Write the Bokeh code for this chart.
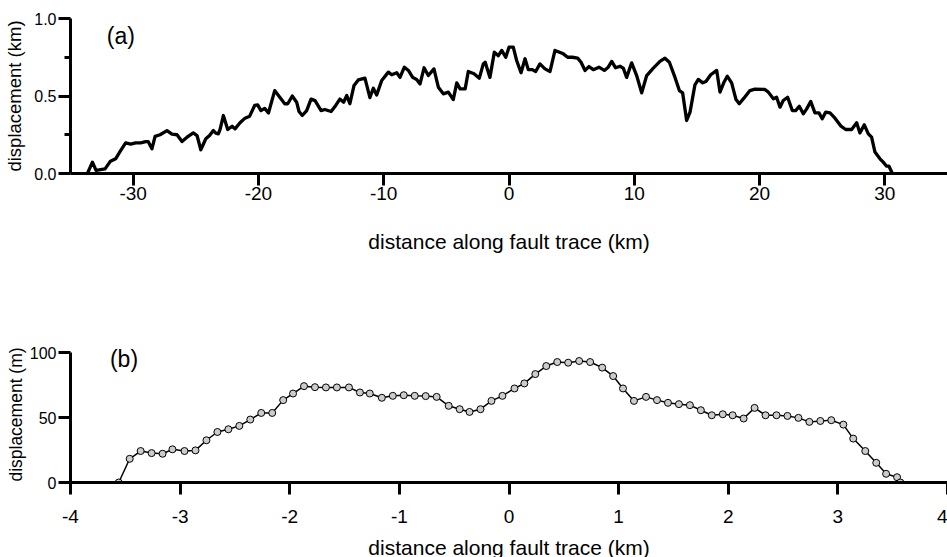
from bokeh.plotting import figure
from bokeh.layouts import column
from bokeh.models import Range1d, FixedTicker, CustomJSTickFormatter, Label
from bokeh.embed import file_html
from bokeh.resources import INLINE

# ---------------- data: panel (a) ----------------
dist_a = [-33.65, -33.25, -32.96, -32.24, -31.84, -31.4, -31.0, -30.6, -30.2, -29.8,
          -29.4, -29.0, -28.8, -28.5, -28.25, -27.85, -27.3, -26.9, -26.5, -26.1,
          -25.7, -25.2, -24.9, -24.6, -24.2, -23.9, -23.6, -23.4, -23.2, -23.06,
          -22.8, -22.45, -22.1, -21.87, -21.47, -21.07, -20.7, -20.3, -20.06, -19.8,
          -19.5, -19.2, -18.7, -18.28, -17.9, -17.66, -17.3, -16.95, -16.76, -16.5,
          -16.15, -15.8, -15.48, -15.0, -14.7, -14.2, -13.83, -13.5, -13.2, -12.95,
          -12.7, -12.37, -12.03, -11.5, -11.1, -10.83, -10.56, -10.16, -9.63, -9.36,
          -8.96, -8.7, -8.35, -8.03, -7.69, -7.37, -7.1, -6.78, -6.44, -5.99,
          -5.64, -5.24, -4.84, -4.45, -4.17, -3.9, -3.5, -3.25, -2.79, -2.37,
          -2.05, -1.9, -1.52, -1.17, -0.85, -0.58, -0.26, 0.0, 0.34, 0.61,
          0.96, 1.28, 1.54, 1.86, 2.13, 2.47, 2.87, 3.27, 3.67, 4.34,
          4.68, 5.05, 5.48, 5.75, 6.07, 6.38, 6.73, 7.18, 7.61, 7.92,
          8.2, 8.51, 8.86, 9.12, 9.39, 9.79, 10.19, 10.59, 10.99, 11.52,
          12.05, 12.45, 12.8, 13.25, 13.6, 13.86, 14.18, 14.45, 14.84, 15.11,
          15.46, 15.72, 16.1, 16.58, 16.84, 17.16, 17.42, 17.77, 18.12, 18.38,
          18.75, 19.23, 19.63, 20.43, 20.7, 21.1, 21.36, 21.63, 21.89, 22.24,
          22.61, 22.88, 23.17, 23.49, 23.76, 24.08, 24.42, 24.74, 25.0, 25.28,
          25.62, 26.02, 26.5, 26.87, 27.35, 27.75, 28.01, 28.36, 28.68, 28.94,
          29.21, 29.61, 29.87, 30.14, 30.33, 30.6]
disp_a = [0.0, 0.073, 0.02, 0.03, 0.077, 0.095, 0.148, 0.198, 0.19, 0.198,
          0.198, 0.206, 0.206, 0.159, 0.24, 0.25, 0.277, 0.254, 0.25, 0.206,
          0.234, 0.262, 0.245, 0.153, 0.224, 0.245, 0.277, 0.26, 0.256, 0.284,
          0.374, 0.284, 0.305, 0.288, 0.327, 0.357, 0.37, 0.439, 0.443, 0.406,
          0.42, 0.39, 0.535, 0.49, 0.45, 0.45, 0.5, 0.46, 0.4, 0.374,
          0.406, 0.48, 0.47, 0.406, 0.413, 0.4, 0.439, 0.48, 0.46, 0.503,
          0.45, 0.568, 0.604, 0.615, 0.49, 0.55, 0.507, 0.6, 0.654, 0.637,
          0.65, 0.62, 0.686, 0.665, 0.62, 0.606, 0.578, 0.682, 0.632, 0.675,
          0.557, 0.514, 0.525, 0.477, 0.585, 0.546, 0.546, 0.658, 0.643, 0.615,
          0.707, 0.718, 0.62, 0.783, 0.76, 0.794, 0.75, 0.815, 0.815, 0.729,
          0.65, 0.74, 0.67, 0.67, 0.658, 0.707, 0.675, 0.658, 0.794, 0.772,
          0.75, 0.75, 0.744, 0.718, 0.665, 0.69, 0.67, 0.686, 0.665, 0.686,
          0.723, 0.682, 0.692, 0.68, 0.62, 0.714, 0.632, 0.52, 0.632, 0.68,
          0.723, 0.744, 0.718, 0.62, 0.535, 0.52, 0.342, 0.396, 0.572, 0.607,
          0.585, 0.594, 0.637, 0.665, 0.525, 0.589, 0.628, 0.585, 0.477, 0.45,
          0.486, 0.535, 0.544, 0.542, 0.525, 0.482, 0.492, 0.428, 0.471, 0.492,
          0.406, 0.406, 0.434, 0.385, 0.417, 0.465, 0.391, 0.391, 0.353, 0.396,
          0.391, 0.357, 0.305, 0.284, 0.284, 0.327, 0.262, 0.314, 0.256, 0.234,
          0.138, 0.095, 0.073, 0.047, 0.047, 0.0]

# ---------------- data: panel (b) ----------------
dist_b = [-3.56, -3.46, -3.36, -3.26, -3.16, -3.07, -2.96, -2.86, -2.76, -2.66,
          -2.56, -2.46, -2.36, -2.26, -2.16, -2.06, -1.97, -1.87, -1.77, -1.67,
          -1.57, -1.46, -1.36, -1.27, -1.16, -1.06, -0.96, -0.86, -0.76, -0.66,
          -0.55, -0.45, -0.36, -0.26, -0.16, -0.06, 0.05, 0.14, 0.24, 0.34,
          0.44, 0.54, 0.64, 0.74, 0.85, 0.95, 1.04, 1.14, 1.25, 1.35,
          1.45, 1.55, 1.65, 1.75, 1.85, 1.95, 2.04, 2.14, 2.24, 2.34,
          2.44, 2.54, 2.64, 2.74, 2.84, 2.94, 3.05, 3.14, 3.25, 3.35,
          3.44, 3.54, 3.57]
disp_b = [0, 18.3, 24.3, 22.7, 22.2, 25.6, 24.3, 24.8, 32.6, 39.0,
          41.1, 43.7, 48.6, 53.7, 53.7, 63.6, 68.7, 74.4, 73.6, 73.4,
          73.4, 73.4, 69.5, 68.7, 65.4, 66.9, 67.4, 66.9, 66.7, 66.1,
          59.2, 56.6, 54.5, 56.6, 63.0, 66.9, 72.6, 76.5, 83.7, 89.9,
          93.0, 92.5, 93.8, 93.0, 88.7, 82.2, 72.6, 63.0, 66.1, 63.6,
          61.5, 60.5, 59.7, 55.8, 51.9, 52.7, 51.9, 49.4, 57.6, 51.9,
          51.9, 51.4, 49.9, 46.8, 47.5, 48.1, 44.7, 33.9, 24.3, 15.2,
          6.7, 4.1, 0]

xticks_a = [-30, -20, -10, 0, 10, 20, 30]
yticks_a = [0.0, 0.5, 1.0]
yminor_a = [0.25, 0.75]
xticks_b = [-4, -3, -2, -1, 0, 1, 2, 3, 4]
yticks_b = [0, 50, 100]

x_title = "distance along fault trace (km)"
y_title_a = "displacement (km)"
y_title_b = "displacement (m)"

FONT = "Liberation Sans"

int_fmt = CustomJSTickFormatter(code="return tick.toFixed(0);")
one_dec_fmt = CustomJSTickFormatter(code="return tick.toFixed(1);")


def style_axes(p, xlab_standoff, ylab_standoff, xtick_standoff, ylab_size):
    for ax in (p.xaxis[0], p.yaxis[0]):
        ax.axis_line_width = 3
        ax.axis_line_color = "black"
        ax.major_tick_line_width = 3
        ax.major_tick_line_color = "black"
        ax.minor_tick_line_width = 3
        ax.minor_tick_line_color = "black"
        ax.major_tick_in = 0
        ax.minor_tick_in = 0
        ax.major_tick_out = 12
        ax.minor_tick_out = 6
        ax.major_label_text_font = FONT
        ax.major_label_text_color = "black"
        ax.axis_label_text_font = FONT
        ax.axis_label_text_font_style = "normal"
        ax.axis_label_text_color = "black"
    p.xaxis.major_label_text_font_size = "19px"
    p.yaxis.major_label_text_font_size = "16px"
    p.xaxis.axis_label_text_font_size = "21px"
    p.yaxis.axis_label_text_font_size = ylab_size
    p.xaxis.major_label_standoff = xtick_standoff
    p.yaxis.major_label_standoff = 2
    p.xaxis.axis_label_standoff = xlab_standoff
    p.yaxis.axis_label_standoff = ylab_standoff
    p.xgrid.visible = False
    p.ygrid.visible = False
    p.outline_line_color = None


# ---------------- panel (a) ----------------
pa = figure(width=947, height=290, output_backend="svg", toolbar_location=None,
            x_range=Range1d(-35, 35), y_range=Range1d(0, 1),
            min_border_left=70, min_border_right=0, min_border_top=18,
            min_border_bottom=117, background_fill_color="white",
            border_fill_color="white")
pa.line(dist_a, disp_a, line_color="black", line_width=3.3, line_join="round")
pa.xaxis.ticker = FixedTicker(ticks=xticks_a)
pa.yaxis.ticker = FixedTicker(ticks=yticks_a, minor_ticks=yminor_a)
pa.xaxis.formatter = int_fmt
pa.yaxis.formatter = one_dec_fmt
pa.xaxis.axis_label = x_title
pa.yaxis.axis_label = y_title_a
style_axes(pa, xlab_standoff=27, ylab_standoff=6, xtick_standoff=1,
           ylab_size="18.5px")
pa.add_layout(Label(x=-32.1, y=0.89, text="(a)", text_font=FONT,
                    text_font_size="23px", text_baseline="middle",
                    text_color="black"))

# ---------------- panel (b) ----------------
# the lower panel runs a little past the window, as the reference crops its title
pb = figure(width=947, height=290, output_backend="svg", toolbar_location=None,
            x_range=Range1d(-4, 4), y_range=Range1d(0, 105),
            min_border_left=70, min_border_right=0, min_border_top=56,
            min_border_bottom=98, background_fill_color="white",
            border_fill_color="white")
pb.line(dist_b, disp_b, line_color="black", line_width=1.5)
pb.scatter(dist_b, disp_b, size=7, marker="circle", fill_color="#cccccc",
           line_color="black", line_width=1)
pb.xaxis.ticker = FixedTicker(ticks=xticks_b)
pb.yaxis.ticker = FixedTicker(ticks=yticks_b)
pb.yaxis.bounds = (0, 100)
pb.xaxis.formatter = int_fmt
pb.yaxis.formatter = int_fmt
pb.xaxis.axis_label = x_title
pb.yaxis.axis_label = y_title_b
style_axes(pb, xlab_standoff=10, ylab_standoff=1, xtick_standoff=15,
           ylab_size="17.5px")
pb.add_layout(Label(x=-3.64, y=95.5, text="(b)", text_font=FONT,
                    text_font_size="23px", text_baseline="middle",
                    text_color="black"))

layout = column(pa, pb, spacing=0)
open("out.html", "w").write(file_html(layout, INLINE))
